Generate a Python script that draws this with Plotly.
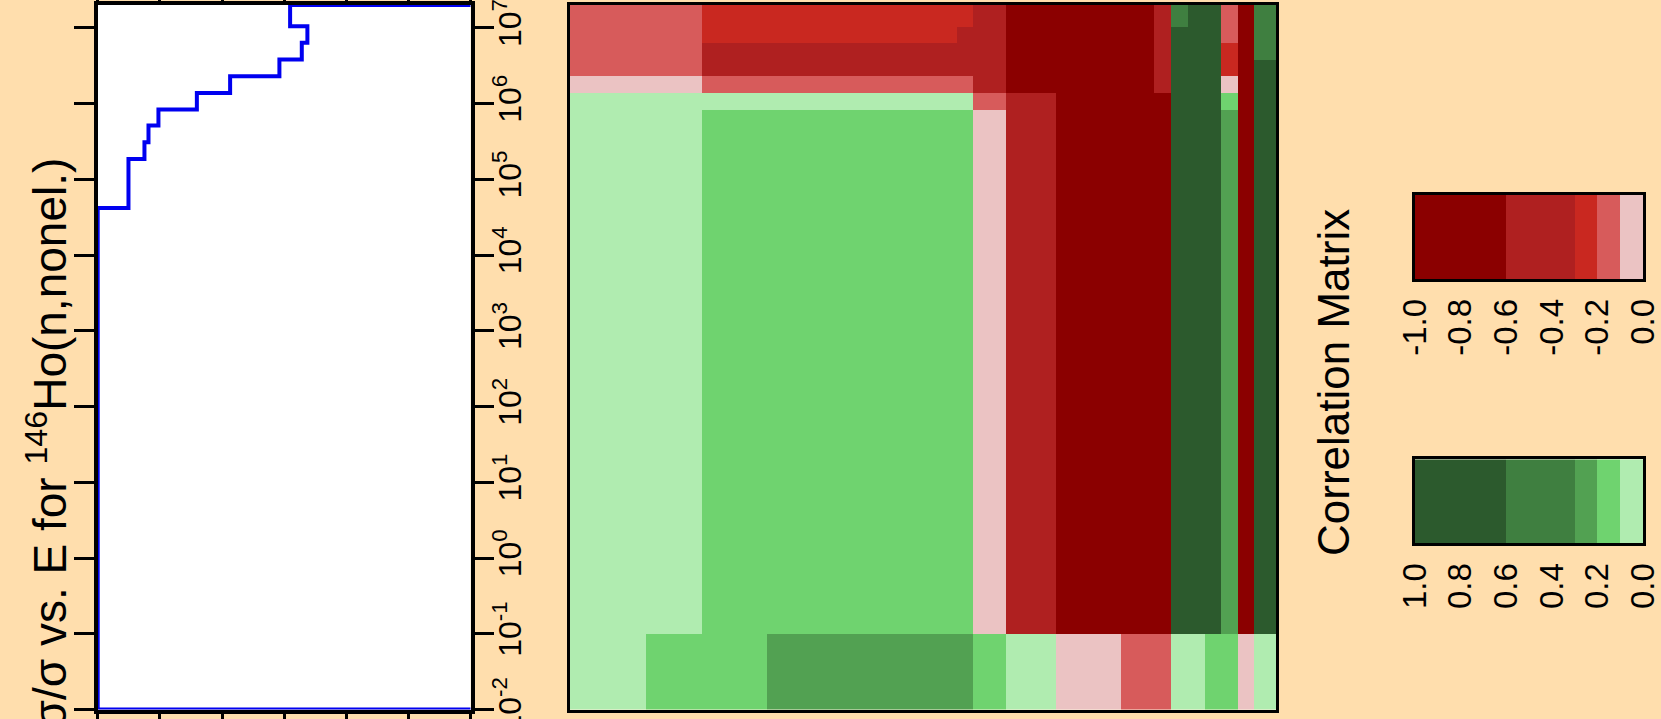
import numpy as np
import plotly.graph_objects as go

W, H = 1661, 719
BG = "#FFDEAD"
FONT = "Liberation Sans, Arial, sans-serif"

# ---------------- data ----------------
# relative uncertainty (step function) vs energy group boundaries (eV)
unc_edges = [1e-2, 4.19e4, 1.86e5, 3.08e5, 5.12e5, 8.33e5, 1.38e6, 2.29e6,
             3.81e6, 6.34e6, 1.05e7, 2e7]
unc_vals = [0.600, 0.5505, 0.5248, 0.5183, 0.5023, 0.4405, 0.387, 0.3077,
            0.2717, 0.2627, 0.2905]
unc_ticks = [0.0, 0.1, 0.2, 0.3, 0.4, 0.5, 0.6]

e_ticks = [1e-2, 1e-1, 1e0, 1e1, 1e2, 1e3, 1e4, 1e5, 1e6, 1e7]
e_ticktext = ["10<sup>-2</sup>", "10<sup>-1</sup>", "10<sup>0</sup>", "10<sup>1</sup>",
              "10<sup>2</sup>", "10<sup>3</sup>", "10<sup>4</sup>", "10<sup>5</sup>",
              "10<sup>6</sup>", "10<sup>7</sup>"]
e_min, e_max = 1e-2, 2e7

# correlation matrix blocks (column / row energy boundaries, eV)
corr_x_edges = [1e-2, 1e-1, 0.54, 3.9, 1245, 2055, 5.5e3, 2.5e4, 1.8e5, 5.0e5,
                8.3e5, 1.37e6, 2.29e6, 3.75e6, 6.3e6, 1.03e7, 2e7]
corr_y_edges = [1e-2, 1e-1, 8.3e5, 1.37e6, 2.29e6, 3.75e6, 6.3e6, 1.03e7, 2e7]

DR, FR, R, LR, P = -0.8, -0.45, -0.25, -0.15, -0.05
LG, G, MG, MDG, DG = 0.05, 0.15, 0.25, 0.45, 0.8
corr = [
    [LG, G, G, MG, MG, G, LG, P, LR, LR, LG, LG, G, G, P, LG],
    [LG, LG, G, G, G, P, FR, DR, DR, DR, DG, DG, DG, MG, DR, DG],
    [LG, LG, LG, LG, LG, LR, FR, DR, DR, DR, DG, DG, DG, G, DR, DG],
    [P, P, LR, LR, LR, FR, DR, DR, DR, FR, DG, DG, DG, P, DR, DG],
    [LR, LR, FR, FR, FR, FR, DR, DR, DR, FR, DG, DG, DG, R, DR, DG],
    [LR, LR, FR, FR, FR, FR, DR, DR, DR, FR, DG, DG, DG, R, DR, MDG],
    [LR, LR, R, R, FR, FR, DR, DR, DR, FR, DG, DG, DG, LR, DR, MDG],
    [LR, LR, R, R, R, FR, DR, DR, DR, FR, MDG, DG, DG, LR, DR, MDG],
]

# legend classes
class_bounds = [-1.0, -0.6, -0.3, -0.2, -0.1, 0.0, 0.1, 0.2, 0.3, 0.6, 1.0]
class_colors = ["#8B0000", "#AF2020", "#C92820", "#D75B5B", "#EBC3C3",
                "#B0ECB0", "#6FD36F", "#52A152", "#3F7F40", "#2C5A2D"]
neg_edges = [-1.0, -0.6, -0.3, -0.2, -0.1, 0.0]
neg_vals = [-0.8, -0.45, -0.25, -0.15, -0.05]
pos_edges = [0.0, 0.1, 0.2, 0.3, 0.6, 1.0]
pos_vals = [0.05, 0.15, 0.25, 0.45, 0.8]
neg_ticks = [-1.0, -0.8, -0.6, -0.4, -0.2, 0.0]
neg_ticktext = ["-1.0", "-0.8", "-0.6", "-0.4", "-0.2", "0.0"]
pos_ticks = [1.0, 0.8, 0.6, 0.4, 0.2, 0.0]
pos_ticktext = ["1.0", "0.8", "0.6", "0.4", "0.2", "0.0"]

# ---------------- helpers ----------------
cscale = []
for i, c in enumerate(class_colors):
    cscale.append([(class_bounds[i] + 1) / 2, c])
    cscale.append([(class_bounds[i + 1] + 1) / 2, c])

def px_x(a, b):
    return [a / W, b / W]

def px_y(top, bottom):
    return [(H - bottom) / H, (H - top) / H]

# step line
sx, sy = [0.0], [unc_edges[0]]
for i, v in enumerate(unc_vals):
    sx += [v, v]
    sy += [unc_edges[i], unc_edges[i + 1]]
sx.append(0.0)
sy.append(unc_edges[-1])

fig = go.Figure()
fig.add_trace(go.Scatter(x=sx, y=sy, mode="lines", line=dict(color="#0000F0", width=4),
                         xaxis="x", yaxis="y", showlegend=False, hoverinfo="skip"))
fig.add_trace(go.Heatmap(x=corr_x_edges, y=corr_y_edges, z=corr, colorscale=cscale,
                         zmin=-1, zmax=1, showscale=False, xaxis="x2", yaxis="y2",
                         hoverinfo="skip"))
fig.add_trace(go.Heatmap(x=neg_edges, y=[0, 1], z=[neg_vals], colorscale=cscale,
                         zmin=-1, zmax=1, showscale=False, xaxis="x3", yaxis="y3",
                         hoverinfo="skip"))
fig.add_trace(go.Heatmap(x=pos_edges, y=[0, 1], z=[pos_vals], colorscale=cscale,
                         zmin=-1, zmax=1, showscale=False, xaxis="x4", yaxis="y4",
                         hoverinfo="skip"))

lr = np.log10([e_min, e_max]).tolist()
ydom = px_y(5, 709.6)
tickfont = dict(family=FONT, size=32, color="black")
cbfont = dict(family=FONT, size=33, color="black")

common = dict(showgrid=False, zeroline=False, automargin=False)

fig.update_layout(
    template="none",
    width=W, height=H, paper_bgcolor=BG, plot_bgcolor="white",
    margin=dict(l=0, r=0, t=0, b=0, pad=0), showlegend=False,
    xaxis=dict(domain=px_x(97.7, 470.7), range=[0.6, 0.0], anchor="y",
               tickvals=unc_ticks, showticklabels=False, ticks="outside", ticklen=20,
               tickwidth=2.5, tickcolor="black", showline=True, linewidth=3.5,
               linecolor="black", mirror="ticks", **common),
    yaxis=dict(domain=ydom, type="log", range=lr, anchor="x", side="right",
               tickvals=e_ticks, ticktext=e_ticktext, tickangle=-90, tickfont=tickfont,
               ticks="outside", ticklen=20, tickwidth=2.5, tickcolor="black",
               ticklabeloverflow="allow", ticklabelstandoff=-12,
               showline=True, linewidth=3.5, linecolor="black", mirror="ticks", **common),
    xaxis2=dict(domain=px_x(570, 1276), type="log", range=lr, anchor="y2",
                showticklabels=False, ticks="", showline=True, linewidth=2.5,
                linecolor="black", mirror=True, **common),
    yaxis2=dict(domain=ydom, type="log", range=lr, anchor="x2",
                showticklabels=False, ticks="", showline=True, linewidth=2.5,
                linecolor="black", mirror=True, **common),
    xaxis3=dict(domain=px_x(1415, 1643), range=[-1, 0], anchor="y3",
                tickvals=neg_ticks, ticktext=neg_ticktext, tickangle=-90, tickfont=cbfont,
                ticks="outside", ticklen=4, tickcolor="rgba(0,0,0,0)",
                ticklabeloverflow="allow",
                showline=True, linewidth=2.5, linecolor="black", mirror=True, **common),
    yaxis3=dict(domain=px_y(195, 279), range=[0, 1], anchor="x3", showticklabels=False,
                ticks="", showline=True, linewidth=2.5, linecolor="black", mirror=True,
                **common),
    xaxis4=dict(domain=px_x(1415, 1643), range=[1, 0], anchor="y4",
                tickvals=pos_ticks, ticktext=pos_ticktext, tickangle=-90, tickfont=cbfont,
                ticks="outside", ticklen=4, tickcolor="rgba(0,0,0,0)",
                ticklabeloverflow="allow",
                showline=True, linewidth=2.5, linecolor="black", mirror=True, **common),
    yaxis4=dict(domain=px_y(459.3, 543.3), range=[0, 1], anchor="x4", showticklabels=False,
                ticks="", showline=True, linewidth=2.5, linecolor="black", mirror=True,
                **common),
    annotations=[
        dict(text="δσ/σ vs. E for <sup>146</sup>Ho(n,nonel.)", textangle=-90,
             xref="paper", yref="paper", x=47 / W, y=(H - 156) / H,
             xanchor="center", yanchor="top", showarrow=False,
             font=dict(family=FONT, size=46, color="black")),
        dict(text="Correlation Matrix", textangle=-90, xref="paper", yref="paper",
             x=1333 / W, y=(H - 383) / H, xanchor="center", yanchor="middle",
             showarrow=False, font=dict(family=FONT, size=44, color="black")),
    ],
)

fig.write_html("out.html", config={"displayModeBar": False},
               post_script="document.body.style.margin='0';"
                           "document.body.style.background='#FFDEAD';")
